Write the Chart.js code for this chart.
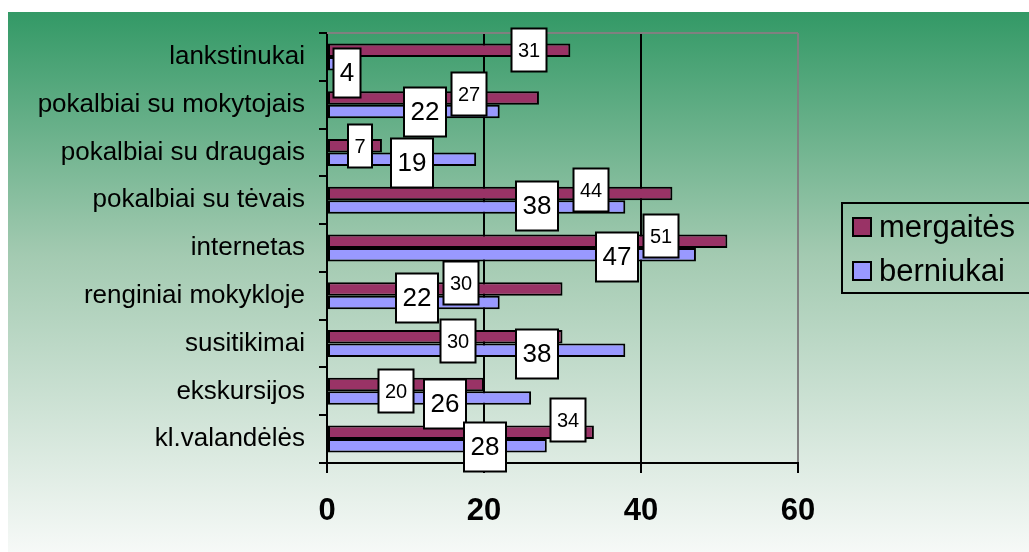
<!DOCTYPE html>
<html>
<head>
<meta charset="utf-8">
<script src="https://cdn.jsdelivr.net/npm/chart.js@4.4.1/dist/chart.umd.min.js"></script>
<style>
html, body { margin: 0; padding: 0; background: #fff; }
</style>
</head>
<body>
<canvas id="chart" width="1029" height="552"></canvas>
<script>
// DATA
const categories = ["lankstinukai", "pokalbiai su mokytojais", "pokalbiai su draugais",
    "pokalbiai su tėvais", "internetas", "renginiai mokykloje", "susitikimai",
    "ekskursijos", "kl.valandėlės"];
const mergaites = [31, 27, 7, 44, 51, 30, 30, 20, 34];
const berniukai = [4, 22, 19, 38, 47, 22, 38, 26, 28];
const xTicks = [0, 20, 40, 60];

// where the value boxes sit, in px from the bar end / bar middle (they were moved by hand in the original)
const mergShift = [[-41, 0], [-70, -4], [-22, 0], [-81, -3], [-66, -5], [-102, -6], [-105, 4], [-88, 6], [-26, -12]];
const bernShift = [[-11, 9], [-75, 1], [-64, 4], [-88, -1], [-79, 2], [-83, -5], [-88, 4], [-86, 6], [-62, 1]];

const FONT = '"Liberation Sans", Arial, sans-serif';

//====================================
// Green to white background, starting a little in from the top left corner
const background = {
    id: 'background',
    beforeDraw(chart) {
        let ctx = chart.ctx;
        let g = ctx.createLinearGradient(0, 12, 0, 552);
        g.addColorStop(0, '#339966');
        g.addColorStop(0.45, '#a3cab1');
        g.addColorStop(1, '#f6f9f7');
        ctx.save();
        ctx.fillStyle = g;
        ctx.fillRect(8, 12, 1029 - 8, 552 - 12);
        ctx.restore();
    },
    beforeDatasetsDraw(chart) {
        // grey top edge of the plot area
        let a = chart.chartArea;
        let ctx = chart.ctx;
        ctx.save();
        ctx.strokeStyle = '#808080';
        ctx.lineWidth = 2;
        ctx.beginPath();
        ctx.moveTo(a.left, a.top);
        ctx.lineTo(a.right, a.top);
        ctx.stroke();
        ctx.restore();
    }
};

//====================================
// White boxed value labels
const boxLabels = {
    id: 'boxLabels',
    afterDatasetsDraw(chart) {
        let ctx = chart.ctx;
        ctx.save();
        chart.data.datasets.forEach((ds, di) => {
            let meta = chart.getDatasetMeta(di);
            let size = di == 0 ? 20 : 26;
            let boxH = di == 0 ? 43 : 49;
            let shift = di == 0 ? mergShift : bernShift;
            ctx.font = size + 'px ' + FONT;
            meta.data.forEach((bar, i) => {
                let txt = String(ds.data[i]);
                let w = Math.round(ctx.measureText(txt).width + 13);
                let cx = Math.round(bar.x + shift[i][0]);
                let cy = Math.round(bar.y + shift[i][1]);
                ctx.fillStyle = '#fff';
                ctx.fillRect(cx - w / 2, cy - boxH / 2, w, boxH);
                ctx.strokeStyle = '#000';
                ctx.lineWidth = 2;
                ctx.strokeRect(cx - w / 2, cy - boxH / 2, w, boxH);
                ctx.fillStyle = '#000';
                ctx.textAlign = 'center';
                ctx.textBaseline = 'middle';
                ctx.fillText(txt, cx, cy + 1);
            });
        });
        ctx.restore();
    }
};

//====================================
// Legend with a frame, running off the right edge
const framedLegend = {
    id: 'framedLegend',
    afterDraw(chart) {
        let ctx = chart.ctx;
        ctx.save();
        ctx.strokeStyle = '#000';
        ctx.lineWidth = 2;
        ctx.strokeRect(842, 203, 220, 90);
        ctx.font = '31px ' + FONT;
        ctx.textAlign = 'left';
        ctx.textBaseline = 'middle';
        chart.data.datasets.forEach((ds, i) => {
            let y = 227 + i * 44;
            ctx.fillStyle = ds.backgroundColor;
            ctx.fillRect(853, y - 9, 18, 18);
            ctx.strokeRect(853, y - 9, 18, 18);
            ctx.fillStyle = '#000';
            ctx.fillText(ds.label, 879, y + 1);
        });
        ctx.restore();
    }
};

//====================================
let config = {
    type: 'bar',
    data: {
        labels: categories,
        datasets: [
            { label: 'mergaitės', data: mergaites, backgroundColor: '#993366' },
            { label: 'berniukai', data: berniukai, backgroundColor: '#9999ff' }
        ]
    },
    options: {
        indexAxis: 'y',
        responsive: false,
        animation: false,
        layout: { padding: { left: 0, top: 33, right: 231, bottom: 0 } },
        datasets: {
            bar: {
                categoryPercentage: 0.565,
                barPercentage: 1.0,
                borderColor: '#000',
                borderWidth: 2,
                borderSkipped: false
            }
        },
        plugins: {
            legend: { display: false },
            tooltip: { enabled: false }
        },
        scales: {
            x: {
                min: 0,
                max: 60,
                afterBuildTicks: s => { s.ticks = xTicks.map(v => ({ value: v })); },
                afterFit: s => { s.height = 89; },
                border: { color: '#000', width: 2 },
                grid: {
                    color: c => (c.tick && c.tick.value == 60) ? '#808080' : '#000',
                    tickColor: '#000',
                    lineWidth: 2,
                    tickWidth: 2,
                    tickLength: 10
                },
                ticks: {
                    color: '#000',
                    padding: 20,
                    font: { family: FONT, size: 31, weight: 'bold' }
                }
            },
            y: {
                afterFit: s => { s.width = 327; },
                border: { color: '#000', width: 2 },
                grid: {
                    drawOnChartArea: false,
                    color: '#000',
                    tickColor: '#000',
                    lineWidth: 2,
                    tickLength: 8
                },
                ticks: {
                    color: '#000',
                    padding: 14,
                    font: { family: FONT, size: 26 }
                }
            }
        }
    },
    plugins: [background, boxLabels, framedLegend]
};

let chart = new Chart(document.getElementById('chart'), config);
</script>
</body>
</html>
